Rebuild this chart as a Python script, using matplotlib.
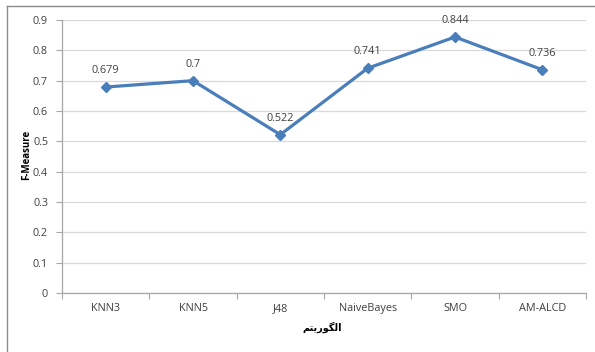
import matplotlib
matplotlib.use("Agg")
import matplotlib.pyplot as plt
from matplotlib.lines import Line2D

algorithms = ["KNN3", "KNN5", "J48", "NaiveBayes", "SMO", "AM-ALCD"]
f_measure = [0.679, 0.7, 0.522, 0.741, 0.844, 0.736]
value_labels = ["0.679", "0.7", "0.522", "0.741", "0.844", "0.736"]
y_ticks = [0, 0.1, 0.2, 0.3, 0.4, 0.5, 0.6, 0.7, 0.8, 0.9]
y_tick_labels = ["0", "0.1", "0.2", "0.3", "0.4", "0.5", "0.6", "0.7", "0.8", "0.9"]
# "الگوریتم" written with Arabic presentation forms in display order
x_title = "\uFEE2\uFE98\uFBFE\uFEAD\uFEEE\uFB95\uFEDF\uFE8D"

plt.rcParams["font.family"] = ["Open Sans", "DejaVu Sans"]

fig = plt.figure(figsize=(5.95, 3.52), dpi=100)
ax = fig.add_axes([62 / 595, 1 - 293 / 352, (586 - 62) / 595, (293 - 20) / 352])

line_color = "#4A7EBB"
x = list(range(len(algorithms)))
ax.plot(x, f_measure, color=line_color, lw=2.3, marker="D", ms=5.5,
        mfc=line_color, mec=line_color, zorder=3)

for xi, v, lab in zip(x, f_measure, value_labels):
    ax.annotate(lab, (xi, v), xytext=(0, 8), textcoords="offset points",
                ha="center", va="bottom", fontsize=7.8, color="#404040")

ax.set_xlim(-0.5, len(algorithms) - 0.5)
ax.set_ylim(0, 0.9)
ax.set_yticks(y_ticks)
ax.set_yticklabels(y_tick_labels)
ax.set_xticks(x)
ax.set_xticklabels(algorithms)
ax.set_xticks([i - 0.5 for i in range(len(algorithms) + 1)], minor=True)
ax.tick_params(axis="x", which="major", length=0, pad=7, labelsize=7.8, labelcolor="#404040")
ax.tick_params(axis="x", which="minor", length=4, color="#A6A6A6", width=0.8)
ax.tick_params(axis="y", which="major", length=4, color="#A6A6A6", width=0.8,
               pad=6, labelsize=7.8, labelcolor="#404040")

ax.grid(axis="y", color="#D9D9D9", lw=0.9)
ax.set_axisbelow(True)
for side in ("top", "right"):
    ax.spines[side].set_visible(False)
for side in ("left", "bottom"):
    ax.spines[side].set_color("#A6A6A6")
    ax.spines[side].set_linewidth(0.9)

fig.text(27 / 595, 1 - 155 / 352, "F-Measure", rotation=90, ha="center", va="center",
         fontsize=7, fontweight="bold", color="#000000")
fig.text(322 / 595, 1 - 327 / 352, x_title, ha="center", va="center",
         fontsize=7, fontweight="bold", family=["DejaVu Sans"], color="#000000")

# outer chart frame (left and top edges)
fig.add_artist(Line2D([7 / 595, 7 / 595], [0, 1 - 6 / 352], transform=fig.transFigure,
                      color="#8C8C8C", lw=1.0))
fig.add_artist(Line2D([7 / 595, 1], [1 - 6 / 352, 1 - 6 / 352], transform=fig.transFigure,
                      color="#8C8C8C", lw=1.0))

fig.savefig("out.png", dpi=100)
